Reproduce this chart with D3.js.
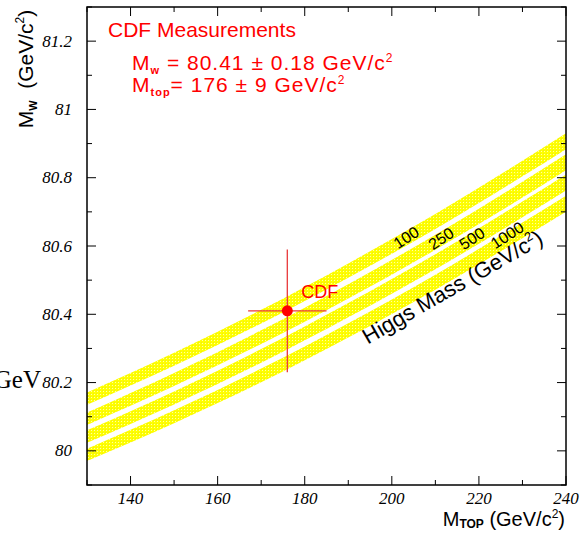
<!DOCTYPE html>
<html>
<head>
<meta charset="utf-8">
<script src="https://cdn.jsdelivr.net/npm/d3@7"></script>
<style>
  body { margin: 0; background: #fff; }
  svg { display: block; }
  .sans { font-family: "Liberation Sans", Arial, Helvetica, sans-serif; }
  .serif { font-family: "Liberation Serif", "Times New Roman", serif; }
</style>
</head>
<body>
<svg id="chart" width="582" height="533"></svg>
<script>
// top mass grid (GeV/c^2) and predicted W mass bands per Higgs mass
const mtop = [130, 150, 170, 190, 210, 230, 240];
const mwH100 = [80.153, 80.268, 80.393, 80.528, 80.672, 80.827, 80.907];
const mwH250 = [80.094, 80.209, 80.333, 80.467, 80.611, 80.765, 80.845];
const mwH500 = [80.042, 80.155, 80.278, 80.412, 80.554, 80.707, 80.786];
const mwH1000 = [79.988, 80.100, 80.221, 80.353, 80.494, 80.646, 80.724];
const bandHalf = [0.018, 0.019, 0.020, 0.021, 0.022, 0.023, 0.0235];
const higgsLabels = ["100", "250", "500", "1000"];
const labelMt = [203.3, 211.3, 218.4, 226.5];
const labelMw = [80.625, 80.622, 80.622, 80.632];

// CDF measurement
const cdfMtop = 176, cdfMtopErr = 9;
const cdfMw = 80.41, cdfMwErr = 0.18;

const xTicks = [140, 160, 180, 200, 220, 240];
const yTicks = [80, 80.2, 80.4, 80.6, 80.8, 81, 81.2];

const margin = { top: 7, right: 16, bottom: 48, left: 87 };
const width = 582, height = 533;

const svg = d3.select("#chart");

const x = d3.scaleLinear().domain([130, 240]).range([margin.left, width - margin.right]);
const y = d3.scaleLinear().domain([79.9, 81.3]).range([height - margin.bottom, margin.top]);

// yellow stipple fill like the original
const defs = svg.append("defs");
const pat = defs.append("pattern")
  .attr("id", "stip")
  .attr("patternUnits", "userSpaceOnUse")
  .attr("width", 3).attr("height", 3);
pat.append("rect").attr("width", 3).attr("height", 3).attr("fill", "#ffff00");
pat.append("rect").attr("x", 1).attr("y", 1).attr("width", 1).attr("height", 1).attr("fill", "#ffffa8");
pat.append("rect").attr("x", 0).attr("y", 0).attr("width", 1).attr("height", 1).attr("fill", "#eeee10");

defs.append("clipPath").attr("id", "plotClip")
  .append("rect")
  .attr("x", x(130)).attr("y", y(81.3))
  .attr("width", x(240) - x(130)).attr("height", y(79.9) - y(81.3));

const bands = [mwH100, mwH250, mwH500, mwH1000];

const area = d3.area()
  .x((d, i) => x(mtop[i]))
  .y0((d, i) => y(d - bandHalf[i]))
  .y1((d, i) => y(d + bandHalf[i]))
  .curve(d3.curveMonotoneX);

svg.append("g")
  .attr("clip-path", "url(#plotClip)")
  .selectAll("path")
  .data(bands)
  .join("path")
  .attr("d", area)
  .attr("fill", "url(#stip)");

// band labels
svg.append("g")
  .attr("class", "sans")
  .selectAll("text")
  .data(higgsLabels)
  .join("text")
  .attr("transform", (d, i) => `translate(${x(labelMt[i])},${y(labelMw[i])}) rotate(-33)`)
  .attr("text-anchor", "middle")
  .attr("dy", "0.35em")
  .attr("font-size", 16)
  .attr("fill", "#000")
  .text((d) => d);

const hm = svg.append("text")
  .attr("class", "sans")
  .attr("transform", `translate(${x(194.5)},${y(80.311)}) rotate(-30)`)
  .attr("font-size", 22)
  .attr("fill", "#000");
hm.append("tspan").text("Higgs Mass (GeV/c");
hm.append("tspan").attr("dy", -9).attr("font-size", 13).text("2");
hm.append("tspan").attr("dy", 9).text(")");

// axes: ticks on all four sides, pointing inwards
const xMinor = d3.range(130, 241, 10);
const yMinor = d3.range(0, 15).map((i) => +(79.9 + i * 0.1).toFixed(1));
const isMajorX = (v) => v % 20 === 0;
const isMajorY = (v) => Math.abs(v * 5 - Math.round(v * 5)) < 1e-6;

const frame = svg.append("g").attr("stroke", "#000").attr("stroke-width", 1.5);
frame.append("rect")
  .attr("x", x(130)).attr("y", y(81.3))
  .attr("width", x(240) - x(130)).attr("height", y(79.9) - y(81.3))
  .attr("fill", "none");

xMinor.forEach((v) => {
  const len = isMajorX(v) ? 9 : 5;
  frame.append("line").attr("x1", x(v)).attr("x2", x(v))
    .attr("y1", y(79.9)).attr("y2", y(79.9) - len).attr("stroke-width", 1);
  frame.append("line").attr("x1", x(v)).attr("x2", x(v))
    .attr("y1", y(81.3)).attr("y2", y(81.3) + len).attr("stroke-width", 1);
});
yMinor.forEach((v) => {
  const len = isMajorY(v) ? 9 : 5;
  frame.append("line").attr("y1", y(v)).attr("y2", y(v))
    .attr("x1", x(130)).attr("x2", x(130) + len).attr("stroke-width", 1);
  frame.append("line").attr("y1", y(v)).attr("y2", y(v))
    .attr("x1", x(240)).attr("x2", x(240) - len).attr("stroke-width", 1);
});

// tick labels (italic serif)
svg.append("g")
  .attr("class", "serif")
  .attr("font-style", "italic")
  .attr("font-size", 17)
  .selectAll("text")
  .data(yTicks)
  .join("text")
  .attr("x", x(130) - 15)
  .attr("y", (d) => y(d))
  .attr("dy", "0.33em")
  .attr("text-anchor", "end")
  .text((d) => String(+d.toFixed(1)));

svg.append("g")
  .attr("class", "serif")
  .attr("font-style", "italic")
  .attr("font-size", 17)
  .selectAll("text")
  .data(xTicks)
  .join("text")
  .attr("x", (d) => x(d))
  .attr("y", y(79.9) + 19)
  .attr("text-anchor", "middle")
  .text((d) => d);

// stray "GeV" at the left edge
svg.append("text")
  .attr("class", "serif")
  .attr("x", 41).attr("y", 388)
  .attr("text-anchor", "end")
  .attr("font-size", 25)
  .text("GeV");

// axis titles
const yl = svg.append("text")
  .attr("class", "sans")
  .attr("transform", "translate(33,69) rotate(-90)")
  .attr("text-anchor", "middle")
  .attr("font-size", 21);
yl.append("tspan").text("M");
yl.append("tspan").attr("dy", 4).attr("font-size", 11).attr("font-weight", "bold").text("W");
yl.append("tspan").attr("dy", -4).text("\u00a0 (GeV/c");
yl.append("tspan").attr("dy", -9).attr("font-size", 12).text("2");
yl.append("tspan").attr("dy", 9).text(")");

const xl = svg.append("text")
  .attr("class", "sans")
  .attr("x", 565).attr("y", 526)
  .attr("text-anchor", "end")
  .attr("font-size", 20);
xl.append("tspan").text("M");
xl.append("tspan").attr("dy", 2).attr("font-size", 12).attr("font-weight", "bold").text("TOP");
xl.append("tspan").attr("dy", -2).text("\u00a0(GeV/c");
xl.append("tspan").attr("dy", -8).attr("font-size", 12).text("2");
xl.append("tspan").attr("dy", 8).text(")");

// CDF measurement with error bars
const meas = svg.append("g");
meas.append("line")
  .attr("x1", x(cdfMtop - cdfMtopErr)).attr("x2", x(cdfMtop + cdfMtopErr))
  .attr("y1", y(cdfMw)).attr("y2", y(cdfMw))
  .attr("stroke", "#e8383a").attr("stroke-width", 1.3);
meas.append("line")
  .attr("x1", x(cdfMtop)).attr("x2", x(cdfMtop))
  .attr("y1", y(cdfMw - cdfMwErr)).attr("y2", y(cdfMw + cdfMwErr))
  .attr("stroke", "#e8383a").attr("stroke-width", 1.3);
meas.append("circle")
  .attr("cx", x(cdfMtop)).attr("cy", y(cdfMw))
  .attr("r", 5.5).attr("fill", "#ff0000");
meas.append("text")
  .attr("class", "sans")
  .attr("x", x(cdfMtop) + 14).attr("y", y(cdfMw) - 13)
  .attr("font-size", 18).attr("fill", "#ff0000")
  .text("CDF");

// legend text
const leg = svg.append("g").attr("class", "sans").attr("fill", "#ff0000").attr("font-size", 21);
leg.append("text").attr("x", 108).attr("y", 37).text("CDF Measurements");
const l2 = leg.append("text").attr("x", 132).attr("y", 70).attr("letter-spacing", 1);
l2.append("tspan").text("M");
l2.append("tspan").attr("dy", 4).attr("font-size", 11).attr("font-weight", "bold").text("w");
l2.append("tspan").attr("dy", -4).text(` = ${cdfMw} \u00b1 ${cdfMwErr} GeV/c`);
l2.append("tspan").attr("dy", -8).attr("font-size", 12).text("2");
const l3 = leg.append("text").attr("x", 132).attr("y", 92).attr("letter-spacing", 1);
l3.append("tspan").text("M");
l3.append("tspan").attr("dy", 4).attr("font-size", 11).attr("font-weight", "bold").text("top");
l3.append("tspan").attr("dy", -4).text(`= ${cdfMtop} \u00b1 ${cdfMtopErr} GeV/c`);
l3.append("tspan").attr("dy", -8).attr("font-size", 12).text("2");
</script>
</body>
</html>
